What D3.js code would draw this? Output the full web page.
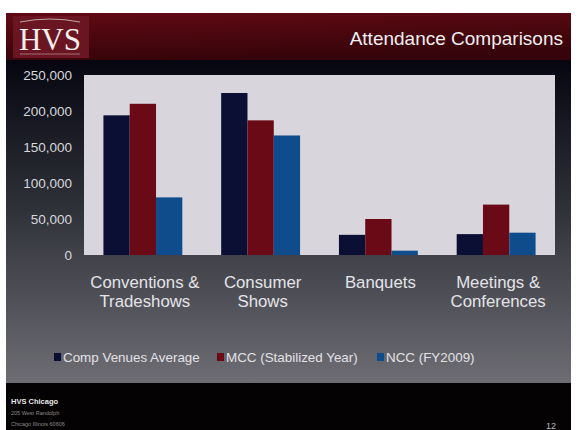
<!DOCTYPE html>
<html>
<head>
<meta charset="utf-8">
<script src="https://cdn.jsdelivr.net/npm/d3@7"></script>
<style>
  html, body { margin: 0; padding: 0; background: #fff; }
  svg { display: block; font-family: "Liberation Sans", Arial, sans-serif; }
</style>
</head>
<body>
<svg id="slide" width="579" height="430"></svg>
<script>
// chart data
var categories = [["Conventions &", "Tradeshows"], ["Consumer", "Shows"], ["Banquets"], ["Meetings &", "Conferences"]];
var seriesNames = ["Comp Venues Average", "MCC (Stabilized Year)", "NCC (FY2009)"];
var compVenues = [194000, 225000, 28000, 29000];
var mcc = [210000, 187000, 50000, 70000];
var ncc = [80000, 166000, 6000, 31000];
var yTicks = [0, 50000, 100000, 150000, 200000, 250000];
var seriesColors = ["#0b0f33", "#6b0a17", "#0f4c8c"];

var svg = d3.select("#slide");
var defs = svg.append("defs");

// backgrounds
var hdr = defs.append("linearGradient").attr("id", "hdr").attr("x1", 0).attr("y1", 0).attr("x2", 0.3).attr("y2", 1);
hdr.append("stop").attr("offset", "0%").attr("stop-color", "#620a14");
hdr.append("stop").attr("offset", "100%").attr("stop-color", "#36040a");
var body = defs.append("linearGradient").attr("id", "bodyGrad").attr("x1", 0).attr("y1", 0).attr("x2", 0).attr("y2", 1);
body.append("stop").attr("offset", "0%").attr("stop-color", "#060610");
body.append("stop").attr("offset", "45%").attr("stop-color", "#2e3038");
body.append("stop").attr("offset", "100%").attr("stop-color", "#6e6d74");

svg.append("rect").attr("x", 6).attr("y", 13).attr("width", 565).attr("height", 430).attr("fill", "#050204");
svg.append("rect").attr("x", 6).attr("y", 13).attr("width", 565).attr("height", 47).attr("fill", "url(#hdr)");
svg.append("rect").attr("x", 6).attr("y", 60).attr("width", 565).attr("height", 323).attr("fill", "url(#bodyGrad)");

// logo
svg.append("rect").attr("x", 13).attr("y", 16).attr("width", 76).attr("height", 42).attr("fill", "#6a1622");
svg.append("path").attr("d", "M20,22 Q50,16 80,22").attr("fill", "none").attr("stroke", "#d8c8c8").attr("stroke-width", 0.8);
svg.append("text").attr("x", 50).attr("y", 50).attr("text-anchor", "middle")
  .attr("font-family", "Liberation Serif, Times New Roman, serif").attr("font-size", 31).attr("fill", "#f4eeee").text("HVS");
svg.append("line").attr("x1", 20).attr("x2", 80).attr("y1", 54).attr("y2", 54).attr("stroke", "#c9a9ad").attr("stroke-width", 0.6);

svg.append("text").attr("x", 563).attr("y", 45).attr("text-anchor", "end")
  .attr("font-size", 19).attr("fill", "#f0eef0").text("Attendance Comparisons");

// plot area
var x0 = d3.scaleBand().domain(d3.range(categories.length)).range([84, 555]).paddingInner(0.33).paddingOuter(0.165);
var x1 = d3.scaleBand().domain(d3.range(seriesNames.length)).range([0, x0.bandwidth()]);
var y = d3.scaleLinear().domain([0, 250000]).range([255, 75]);

svg.append("rect").attr("x", 84).attr("y", y(250000)).attr("width", 471).attr("height", y(0) - y(250000)).attr("fill", "#d9d5dc");

var series = [compVenues, mcc, ncc];
var groups = svg.selectAll("g.grp").data(categories).enter().append("g")
  .attr("class", "grp")
  .attr("transform", function(d, i) { return "translate(" + x0(i) + ",0)"; });
groups.selectAll("rect").data(function(d, i) { return series.map(function(s, j) { return { s: j, v: s[i] }; }); })
  .enter().append("rect")
  .attr("x", function(d) { return x1(d.s); })
  .attr("width", x1.bandwidth())
  .attr("y", function(d) { return y(d.v); })
  .attr("height", function(d) { return y(0) - y(d.v); })
  .attr("fill", function(d) { return seriesColors[d.s]; });

// y axis labels
var yAxis = d3.axisLeft(y).tickValues(yTicks).tickSize(0).tickPadding(12).tickFormat(d3.format(","));
var ya = svg.append("g").attr("transform", "translate(84,0)").call(yAxis);
ya.select(".domain").remove();
ya.selectAll("text").attr("font-size", 13.5).attr("fill", "#d8d8dc").attr("font-family", "Liberation Sans, Arial, sans-serif");

// category labels
svg.selectAll("text.cat").data(categories).enter().append("text")
  .attr("class", "cat")
  .attr("x", function(d, i) { return x0(i) + x0.bandwidth() / 2 + 2; })
  .attr("y", 288)
  .attr("text-anchor", "middle").attr("font-size", 16.8).attr("fill", "#e4e4e8")
  .selectAll("tspan").data(function(d) { return d; }).enter().append("tspan")
  .attr("x", function() { return this.parentNode.getAttribute("x"); })
  .attr("dy", function(d, i) { return i === 0 ? 0 : 19; })
  .text(function(d) { return d; });

// legend
var legendX = [54, 217, 377];
var lg = svg.selectAll("g.leg").data(seriesNames).enter().append("g")
  .attr("class", "leg")
  .attr("transform", function(d, i) { return "translate(" + legendX[i] + ",353)"; });
lg.append("rect").attr("x", 0).attr("y", 0).attr("width", 7).attr("height", 8)
  .attr("fill", function(d, i) { return seriesColors[i]; });
lg.append("text").attr("x", 9).attr("y", 9).attr("font-size", 13.4).attr("fill", "#e2e2e6").text(function(d) { return d; });

// footer
svg.append("text").attr("x", 11).attr("y", 404).attr("font-size", 7.5).attr("font-weight", "bold").attr("fill", "#e8e8e8").text("HVS Chicago");
svg.append("text").attr("x", 11).attr("y", 415).attr("font-size", 5.5).attr("fill", "#8a8a8a").text("205 West Randolph");
svg.append("text").attr("x", 11).attr("y", 426).attr("font-size", 5.5).attr("fill", "#8a8a8a").text("Chicago Illinois 60606");
svg.append("text").attr("x", 556).attr("y", 429).attr("text-anchor", "end").attr("font-size", 9).attr("fill", "#bbb").text("12");
</script>
</body>
</html>
